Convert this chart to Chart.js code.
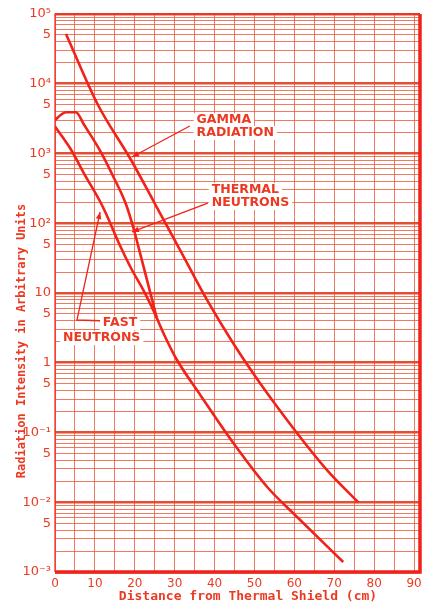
<!DOCTYPE html>
<html>
<head>
<meta charset="utf-8">
<script src="https://cdn.jsdelivr.net/npm/chart.js@4.4.1/dist/chart.umd.min.js"></script>
<style>
html, body { margin: 0; padding: 0; background: #fff; }
#wrap { width: 432px; height: 604px; }
</style>
</head>
<body>
<div id="wrap"><canvas id="chart"></canvas></div>
<script>
// values
var gammaX = [2.75, 10.75, 19, 25.25, 31.5, 38.25, 44.75, 51.5, 60.75, 68.25, 76];
var gammaY = [51800, 5000, 820, 181, 40, 7.7, 1.87, 0.5, 0.097, 0.0287, 0.01];

var thermalX = [0, 1.5, 2.75, 5.25, 7.25, 11.5, 14.75, 17.75, 19.75, 21, 23.25, 25.5];
var thermalY = [3000, 3600, 3900, 3900, 2600, 1050, 450, 190, 82, 44, 14, 4.4];

var fastX = [0, 4, 7.25, 11.5, 13.25, 16, 19, 22.25, 24.75, 27.25, 30.25, 36.5, 44.75, 53.25, 60.75, 72.25];
var fastY = [2430, 1140, 520, 195, 120, 52, 23, 10.7, 5.5, 2.6, 1.18, 0.34, 0.07, 0.0164, 0.0061, 0.00139];

var xTicks = [0, 5, 10, 15, 20, 25, 30, 35, 40, 45, 50, 55, 60, 65, 70, 75, 80, 85, 90];
var xLabelTicks = [0, 10, 20, 30, 40, 50, 60, 70, 80, 90];

var yDecades = [-3, -2, -1, 0, 1, 2, 3, 4];
var yMantissas = [1, 2, 3, 4, 5, 6, 7, 8, 9];
var yLabelVals = [1e5, 5e4, 1e4, 5e3, 1e3, 500, 100, 50, 10, 5, 1, 0.5, 0.1, 0.05, 0.01, 0.005, 0.001];
var yLabelText = ['10⁵', '5', '10⁴', '5', '10³', '5', '10²', '5', '10', '5', '1', '5', '10⁻¹', '5', '10⁻²', '5', '10⁻³'];

// annotation text and pointers, in data units
var noteText = ['GAMMA', 'RADIATION', 'THERMAL', 'NEUTRONS', 'FAST', 'NEUTRONS'];
var noteX = [35.5, 35.5, 39.3, 39.3, 12, 2];
var noteY = [3000, 1970, 300, 195, 3.7, 2.26];

var gammaPtrX = [33.8, 19.3];
var gammaPtrY = [2480, 890];
var thermalPtrX = [38.3, 19.3];
var thermalPtrY = [195, 75];
var fastPtrX = [11.3, 5.5, 11.3];
var fastPtrY = [4, 4.1, 145];

var RED = '#ec3a22';
var LINE = '#f0221a';
var GRID = 'rgba(232, 84, 52, 0.78)';

var yTicks = [];
yDecades.forEach(function (d) {
    yMantissas.forEach(function (m) { yTicks.push(m * Math.pow(10, d)); });
});
yTicks.push(1e5);

function pts(xs, ys) {
    return xs.map(function (x, i) { return { x: x, y: ys[i] }; });
}

function isDecade(v) {
    var l = Math.log10(v);
    return Math.abs(l - Math.round(l)) < 1e-9;
}

function yLabel(v) {
    for (var i = 0; i < yLabelVals.length; i++) {
        if (Math.abs(v - yLabelVals[i]) < yLabelVals[i] * 1e-6) return yLabelText[i];
    }
    return '';
}

function arrowLine(ctx, xs, ys, sx, sy) {
    var p = xs.map(function (x, i) { return [sx.getPixelForValue(x), sy.getPixelForValue(ys[i])]; });
    ctx.save();
    ctx.strokeStyle = LINE;
    ctx.fillStyle = LINE;
    ctx.lineWidth = 1.3;
    ctx.beginPath();
    ctx.moveTo(p[0][0], p[0][1]);
    for (var i = 1; i < p.length; i++) ctx.lineTo(p[i][0], p[i][1]);
    ctx.stroke();
    var a = p[p.length - 2], b = p[p.length - 1];
    var ang = Math.atan2(b[1] - a[1], b[0] - a[0]);
    ctx.beginPath();
    ctx.moveTo(b[0], b[1]);
    ctx.lineTo(b[0] - 7 * Math.cos(ang) + 2.8 * Math.sin(ang), b[1] - 7 * Math.sin(ang) - 2.8 * Math.cos(ang));
    ctx.lineTo(b[0] - 7 * Math.cos(ang) - 2.8 * Math.sin(ang), b[1] - 7 * Math.sin(ang) + 2.8 * Math.cos(ang));
    ctx.closePath();
    ctx.fill();
    ctx.restore();
}

var paperPlugin = {
    id: 'paper',
    afterDraw: function (chart) {
        var ctx = chart.ctx, a = chart.chartArea;
        var sx = chart.scales.x, sy = chart.scales.y;
        ctx.save();
        ctx.strokeStyle = LINE;
        ctx.lineWidth = 1.2;
        ctx.beginPath();
        ctx.moveTo(a.left, a.bottom);
        ctx.lineTo(a.left, a.top);
        ctx.lineTo(a.right, a.top);
        ctx.stroke();
        ctx.lineWidth = 3.5;
        ctx.beginPath();
        ctx.moveTo(a.left, a.bottom);
        ctx.lineTo(a.right, a.bottom);
        ctx.lineTo(a.right, a.top);
        ctx.stroke();

        // notes with white backing
        ctx.font = 'bold 12.5px "DejaVu Sans"';
        ctx.textBaseline = 'middle';
        ctx.textAlign = 'left';
        noteText.forEach(function (t, i) {
            var px = sx.getPixelForValue(noteX[i]);
            var py = sy.getPixelForValue(noteY[i]);
            var w = ctx.measureText(t).width;
            ctx.fillStyle = '#fff';
            ctx.fillRect(px - 3, py - 7, w + 6, 14);
        });
        noteText.forEach(function (t, i) {
            ctx.fillStyle = RED;
            ctx.fillText(t, sx.getPixelForValue(noteX[i]), sy.getPixelForValue(noteY[i]));
        });
        arrowLine(ctx, gammaPtrX, gammaPtrY, sx, sy);
        arrowLine(ctx, thermalPtrX, thermalPtrY, sx, sy);
        arrowLine(ctx, fastPtrX, fastPtrY, sx, sy);

        // axis titles
        ctx.fillStyle = RED;
        ctx.textAlign = 'center';
        ctx.font = 'bold 13px "DejaVu Sans Mono"';
        ctx.fillText('Distance from Thermal Shield (cm)', 248, 597);
        ctx.translate(22, 341);
        ctx.rotate(-Math.PI / 2);
        ctx.font = 'bold 12px "DejaVu Sans Mono"';
        ctx.fillText('Radiation Intensity in Arbitrary Units', 0, 0);
        ctx.restore();
    }
};

function lineSet(label, xs, ys) {
    return {
        label: label,
        data: pts(xs, ys),
        borderColor: LINE,
        borderWidth: 2.6,
        pointRadius: 0,
        cubicInterpolationMode: 'monotone',
        fill: false
    };
}

new Chart(document.getElementById('chart').getContext('2d'), {
    type: 'line',
    data: {
        datasets: [
            lineSet('Gamma radiation', gammaX, gammaY),
            lineSet('Thermal neutrons', thermalX, thermalY),
            lineSet('Fast neutrons', fastX, fastY)
        ]
    },
    options: {
        responsive: true,
        maintainAspectRatio: false,
        animation: false,
        layout: { padding: { top: 14, right: 12, left: 0, bottom: 0 } },
        plugins: { legend: { display: false }, tooltip: { enabled: false } },
        scales: {
            x: {
                type: 'linear',
                min: 0,
                max: 91.5,
                afterBuildTicks: function (s) { s.ticks = xTicks.map(function (v) { return { value: v }; }); },
                afterFit: function (s) { s.height = 32; },
                border: { display: false },
                grid: { color: GRID, lineWidth: 1, drawTicks: false },
                ticks: {
                    autoSkip: false,
                    maxRotation: 0,
                    padding: 5,
                    color: RED,
                    font: { family: 'DejaVu Sans', size: 12 },
                    callback: function (v) { return xLabelTicks.indexOf(v) >= 0 ? String(v) : ''; }
                }
            },
            y: {
                type: 'logarithmic',
                min: 1e-3,
                max: 1e5,
                afterBuildTicks: function (s) { s.ticks = yTicks.map(function (v) { return { value: v }; }); },
                afterFit: function (s) { s.width = 55; },
                border: { display: false },
                grid: {
                    drawTicks: false,
                    color: function (c) { return c.tick && isDecade(c.tick.value) ? 'rgba(226, 70, 40, 0.95)' : GRID; },
                    lineWidth: function (c) { return c.tick && isDecade(c.tick.value) ? 2.6 : 1; }
                },
                ticks: {
                    autoSkip: false,
                    padding: 4,
                    color: RED,
                    font: { family: 'DejaVu Sans', size: 13 },
                    callback: function (v) { return yLabel(v); }
                }
            }
        }
    },
    plugins: [paperPlugin]
});
</script>
</body>
</html>
